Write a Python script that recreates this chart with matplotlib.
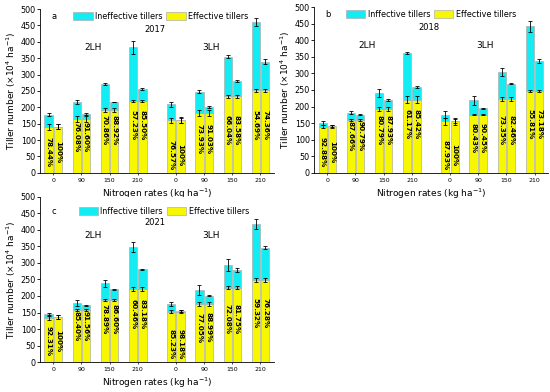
import numpy as np
import matplotlib
matplotlib.use('Agg')
import matplotlib.pyplot as plt

# nitrogen rates and groups
n_rates = ['0', '90', '150', '210']
groups = ['2LH', '3LH']
years = ['2017', '2018', '2021']
panel_tags = ['a', 'b', 'c']

# totals (effective + ineffective) and effective tillers, x10^4 ha-1
# order: 2LH 0,90,150,210 then 3LH 0,90,150,210 ; bar1 / bar2 of each pair
total_2017_b1 = [178, 216, 271, 383, 209, 248, 355, 461]
total_2017_b2 = [141, 180, 216, 256, 160, 201, 280, 339]
eff_2017_b1 = [140, 165, 193, 219, 160, 183, 234, 252]
eff_2017_b2 = [141, 165, 192, 219, 160, 183, 234, 252]
tot_err_2017_b1 = [4, 7, 2, 20, 7, 4, 4, 12]
tot_err_2017_b2 = [8, 3, 1, 2, 9, 2, 2, 8]
eff_err_2017 = [8, 10, 6, 2, 8, 10, 5, 5]
pct_2017_b1 = ['78.44%', '76.08%', '70.86%', '57.23%', '76.57%', '73.93%', '66.04%', '54.69%']
pct_2017_b2 = ['100%', '91.60%', '88.92%', '85.50%', '100%', '91.03%', '83.58%', '74.36%']

total_2018_b1 = [150, 182, 240, 361, 176, 219, 303, 442]
total_2018_b2 = [140, 176, 220, 259, 155, 195, 269, 336]
eff_2018_b1 = [139, 160, 194, 221, 155, 176, 222, 247]
eff_2018_b2 = [140, 160, 194, 221, 155, 176, 222, 246]
tot_err_2018_b1 = [5, 5, 12, 2, 12, 13, 12, 17]
tot_err_2018_b2 = [3, 2, 2, 4, 6, 2, 2, 6]
eff_err_2018 = [5, 3, 6, 10, 10, 3, 6, 3]
pct_2018_b1 = ['92.88%', '87.66%', '80.79%', '61.17%', '87.93%', '80.43%', '73.35%', '55.81%']
pct_2018_b2 = ['100%', '90.79%', '87.93%', '85.42%', '100%', '90.45%', '82.46%', '73.18%']

total_2021_b1 = [145, 179, 238, 349, 176, 217, 293, 417]
total_2021_b2 = [136, 172, 220, 281, 155, 201, 279, 346]
eff_2021_b1 = [134, 157, 188, 221, 152, 177, 225, 248]
eff_2021_b2 = [136, 157, 188, 221, 152, 177, 225, 248]
tot_err_2021_b1 = [3, 8, 10, 15, 6, 15, 18, 15]
tot_err_2021_b2 = [5, 2, 2, 2, 3, 2, 5, 5]
eff_err_2021 = [6, 3, 3, 6, 5, 6, 5, 6]
pct_2021_b1 = ['92.31%', '85.40%', '78.89%', '60.46%', '85.23%', '77.05%', '72.08%', '59.32%']
pct_2021_b2 = ['100%', '91.56%', '86.60%', '83.18%', '98.18%', '88.99%', '81.75%', '76.28%']

data = [
    (total_2017_b1, total_2017_b2, eff_2017_b1, eff_2017_b2, tot_err_2017_b1, tot_err_2017_b2, eff_err_2017, pct_2017_b1, pct_2017_b2),
    (total_2018_b1, total_2018_b2, eff_2018_b1, eff_2018_b2, tot_err_2018_b1, tot_err_2018_b2, eff_err_2018, pct_2018_b1, pct_2018_b2),
    (total_2021_b1, total_2021_b2, eff_2021_b1, eff_2021_b2, tot_err_2021_b1, tot_err_2021_b2, eff_err_2021, pct_2021_b1, pct_2021_b2),
]

# vertical centre of the percentage labels (layout only)
label_mid = [62, 110, 130, 146, 55, 104, 130, 147]

CYAN = '#12ecf2'
YELLOW = '#f7f700'
EDGE = '#b0b0b0'

x = np.array([0, 1, 2, 3, 4.35, 5.35, 6.35, 7.35])
w = 0.29
off = 0.165

fig = plt.figure(figsize=(5.5, 3.92), dpi=100)
positions = [
    [0.0727, 0.559, 0.425, 0.418],
    [0.571, 0.559, 0.425, 0.423],
    [0.0727, 0.0765, 0.425, 0.421],
]
legend_pos = [(0.517, 0.955), (0.50, 0.955), (0.53, 0.915)]

for k, pos in enumerate(positions):
    ax = fig.add_axes(pos)
    tb1, tb2, eb1, eb2, terr1, terr2, eerr, p1, p2 = data[k]
    tb1, tb2, eb1, eb2 = map(np.array, (tb1, tb2, eb1, eb2))
    err_kw = dict(ecolor='black', elinewidth=0.6, capsize=1.5, capthick=0.6)
    for xs, tot, eff, terr in [(x - off, tb1, eb1, terr1), (x + off, tb2, eb2, terr2)]:
        ax.bar(xs, eff, w, color=YELLOW, edgecolor=EDGE, linewidth=0.5,
               yerr=eerr, error_kw=err_kw, label='Effective tillers', zorder=2)
        ax.bar(xs, tot - eff, w, bottom=eff, color=CYAN, edgecolor=EDGE, linewidth=0.5,
               label='Ineffective tillers', zorder=2)
        ax.errorbar(xs, tot, yerr=terr, fmt='none', zorder=3, **err_kw)
    for i in range(len(x)):
        ax.text(x[i] - off, label_mid[i], p1[i], rotation=-90, ha='center', va='center',
                fontsize=5.2, fontweight='bold')
        ax.text(x[i] + off, label_mid[i], p2[i], rotation=-90, ha='center', va='center',
                fontsize=5.2, fontweight='bold')

    ax.set_xlim(-0.47, 7.82)
    ax.set_ylim(0, 500)
    ax.set_yticks(np.arange(0, 501, 50))
    ax.set_xticks(x)
    ax.set_xticklabels(n_rates * 2)
    ax.tick_params(axis='x', labelsize=4.5, length=1.5, width=0.5, pad=2)
    ax.tick_params(axis='y', labelsize=5.8, length=2, width=0.6, pad=1)
    ax.spines['top'].set_visible(False)
    ax.spines['right'].set_visible(False)
    ax.spines['left'].set_linewidth(0.6)
    ax.spines['bottom'].set_linewidth(0.6)
    ax.set_ylabel('Tiller number (\u00d710$^4$ ha$^{-1}$)', fontsize=6.5, labelpad=2)
    ax.set_xlabel('Nitrogen rates (kg ha$^{-1}$)', fontsize=6.5, labelpad=3)

    ax.text(0.05, 0.955 if k < 2 else 0.915, panel_tags[k], transform=ax.transAxes,
            fontsize=6, va='center')
    ax.text(3.6, 438 if k < 2 else 422, years[k], ha='center', va='center', fontsize=6)
    ax.text(1.42, 383, groups[0], ha='center', va='center', fontsize=6.5)
    ax.text(5.6, 383, groups[1], ha='center', va='center', fontsize=6.5)

    handles, labels = ax.get_legend_handles_labels()
    cyan_h = handles[1]
    yel_h = handles[0]
    leg_txt = 'Ineffective tillers' if k == 0 else 'Inffective tillers'
    ax.legend([cyan_h, yel_h], [leg_txt, 'Effective tillers'], ncol=2, frameon=False,
              fontsize=5.8, handlelength=2.4, handleheight=1.2, columnspacing=0.5,
              handletextpad=0.3, loc='center', bbox_to_anchor=legend_pos[k])

fig.savefig('out.png', dpi=100)
